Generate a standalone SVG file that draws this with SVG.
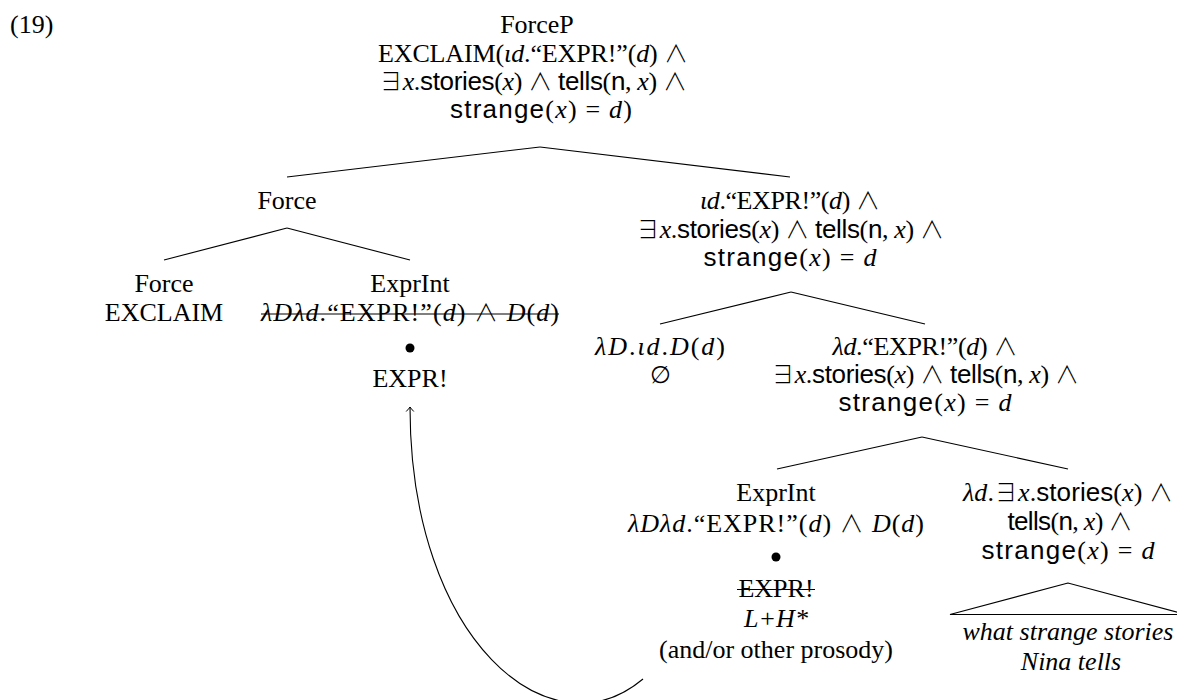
<svg xmlns="http://www.w3.org/2000/svg" width="1177" height="700" viewBox="0 0 1177 700">
<style>
text { font-family: "Liberation Serif", "DejaVu Serif", serif; font-size: 26px; fill: #000; text-anchor: middle; }
.i { font-style: italic; }
.s { font-family: "Liberation Sans", "DejaVu Sans", sans-serif; }
.m { font-family: "Noto Sans CJK JP", "DejaVu Sans", sans-serif; font-weight: 300; font-size: 24px; }
.z { font-family: "DejaVu Sans", sans-serif; font-weight: 200; font-size: 24px; }
.e { stroke: #000; stroke-width: 1.1; fill: none; }
.strike { stroke: #000; stroke-width: 1.1; }
</style>
<defs>
<marker id="ah" viewBox="-6 -6 12 12" markerWidth="12" markerHeight="12" refX="0" refY="0" orient="auto" markerUnits="userSpaceOnUse">
<path d="M-4.5,-3.8 Q-1.5,-1 0,0 Q-1.5,1 -4.5,3.8" fill="none" stroke="#000" stroke-width="1"/>
</marker>
</defs>
<rect width="1177" height="700" fill="#fff"/>
<text x="10" y="33" style="text-anchor:start">(19)</text>

<g id="edges">
<line class="e" x1="540" y1="147" x2="287" y2="177"/>
<line class="e" x1="540" y1="147" x2="790" y2="177"/>
<line class="e" x1="287" y1="228" x2="164" y2="260"/>
<line class="e" x1="287" y1="228" x2="410" y2="260"/>
<line class="e" x1="791" y1="292" x2="660" y2="324"/>
<line class="e" x1="791" y1="292" x2="925" y2="324"/>
<line class="e" x1="922" y1="437" x2="777" y2="469"/>
<line class="e" x1="922" y1="437" x2="1068" y2="469"/>
<path class="e" d="M643,679 C550,757 410,640 410,407" marker-end="url(#ah)"/>
</g>

<g id="forceP">
<text x="537" y="33">ForceP</text>
<text x="533" y="62" textLength="310">EXCLAIM(<tspan class="i">ιd</tspan>.“EXPR!”(<tspan class="i">d</tspan>) <tspan class="m">∧</tspan></text>
<text x="533" y="90" textLength="308"><tspan class="m">∃</tspan><tspan class="i">x</tspan>.<tspan class="s">stories</tspan>(<tspan class="i">x</tspan>) <tspan class="m">∧</tspan> <tspan class="s">tells</tspan>(<tspan class="s">n</tspan>, <tspan class="i">x</tspan>) <tspan class="m">∧</tspan></text>
<text x="541" y="118" textLength="182"><tspan class="s">strange</tspan>(<tspan class="i">x</tspan>) = <tspan class="i">d</tspan>)</text>
</g>

<g id="force2">
<text x="287" y="209">Force</text>
</g>

<g id="iota-node">
<text x="790" y="209" textLength="180"><tspan class="i">ιd</tspan>.“EXPR!”(<tspan class="i">d</tspan>) <tspan class="m">∧</tspan></text>
<text x="790" y="237.5" textLength="308"><tspan class="m">∃</tspan><tspan class="i">x</tspan>.<tspan class="s">stories</tspan>(<tspan class="i">x</tspan>) <tspan class="m">∧</tspan> <tspan class="s">tells</tspan>(<tspan class="s">n</tspan>, <tspan class="i">x</tspan>) <tspan class="m">∧</tspan></text>
<text x="790" y="266" textLength="173"><tspan class="s">strange</tspan>(<tspan class="i">x</tspan>) = <tspan class="i">d</tspan></text>
</g>

<g id="force3">
<text x="164" y="292">Force</text>
<text x="164" y="321">EXCLAIM</text>
</g>

<g id="exprint1">
<text x="410" y="292">ExprInt</text>
<text x="410" y="321" textLength="298"><tspan class="i">λDλd</tspan>.“EXPR!”(<tspan class="i">d</tspan>) <tspan class="m">∧</tspan> <tspan class="i">D</tspan>(<tspan class="i">d</tspan>)</text>
<line class="strike" x1="261" y1="314" x2="559" y2="314"/>
<circle cx="410" cy="348" r="4.5" fill="#000"/>
<text x="410" y="386.5">EXPR!</text>
</g>

<g id="iota-op">
<text x="660" y="355" textLength="130"><tspan class="i">λD</tspan>.<tspan class="i">ιd</tspan>.<tspan class="i">D</tspan>(<tspan class="i">d</tspan>)</text>
<text x="660" y="383"><tspan class="z">∅</tspan></text>
</g>

<g id="lambda-node">
<text x="925" y="355" textLength="185"><tspan class="i">λd</tspan>.“EXPR!”(<tspan class="i">d</tspan>) <tspan class="m">∧</tspan></text>
<text x="925" y="383" textLength="308"><tspan class="m">∃</tspan><tspan class="i">x</tspan>.<tspan class="s">stories</tspan>(<tspan class="i">x</tspan>) <tspan class="m">∧</tspan> <tspan class="s">tells</tspan>(<tspan class="s">n</tspan>, <tspan class="i">x</tspan>) <tspan class="m">∧</tspan></text>
<text x="925" y="411" textLength="173"><tspan class="s">strange</tspan>(<tspan class="i">x</tspan>) = <tspan class="i">d</tspan></text>
</g>

<g id="exprint2">
<text x="776" y="501">ExprInt</text>
<text x="776" y="531.5" textLength="296"><tspan class="i">λDλd</tspan>.“EXPR!”(<tspan class="i">d</tspan>) <tspan class="m">∧</tspan> <tspan class="i">D</tspan>(<tspan class="i">d</tspan>)</text>
<circle cx="776" cy="557" r="4.5" fill="#000"/>
<text x="776" y="596.5">EXPR!</text>
<line class="strike" x1="737" y1="589.5" x2="815" y2="589.5"/>
<text x="776" y="627" class="i">L+H*</text>
<text x="776" y="658">(and/or other prosody)</text>
</g>

<g id="wh-node">
<text x="1068" y="501" textLength="210"><tspan class="i">λd</tspan>.<tspan class="m">∃</tspan><tspan class="i">x</tspan>.<tspan class="s">stories</tspan>(<tspan class="i">x</tspan>) <tspan class="m">∧</tspan></text>
<text x="1070" y="530" textLength="125"><tspan class="s">tells</tspan>(<tspan class="s">n</tspan>, <tspan class="i">x</tspan>) <tspan class="m">∧</tspan></text>
<text x="1068" y="559" textLength="173"><tspan class="s">strange</tspan>(<tspan class="i">x</tspan>) = <tspan class="i">d</tspan></text>
<polygon class="e" points="1068,583 950,614.5 1186,614.5"/>
<text x="1068" y="640" class="i">what strange stories</text>
<text x="1071" y="670" class="i">Nina tells</text>
</g>
</svg>
